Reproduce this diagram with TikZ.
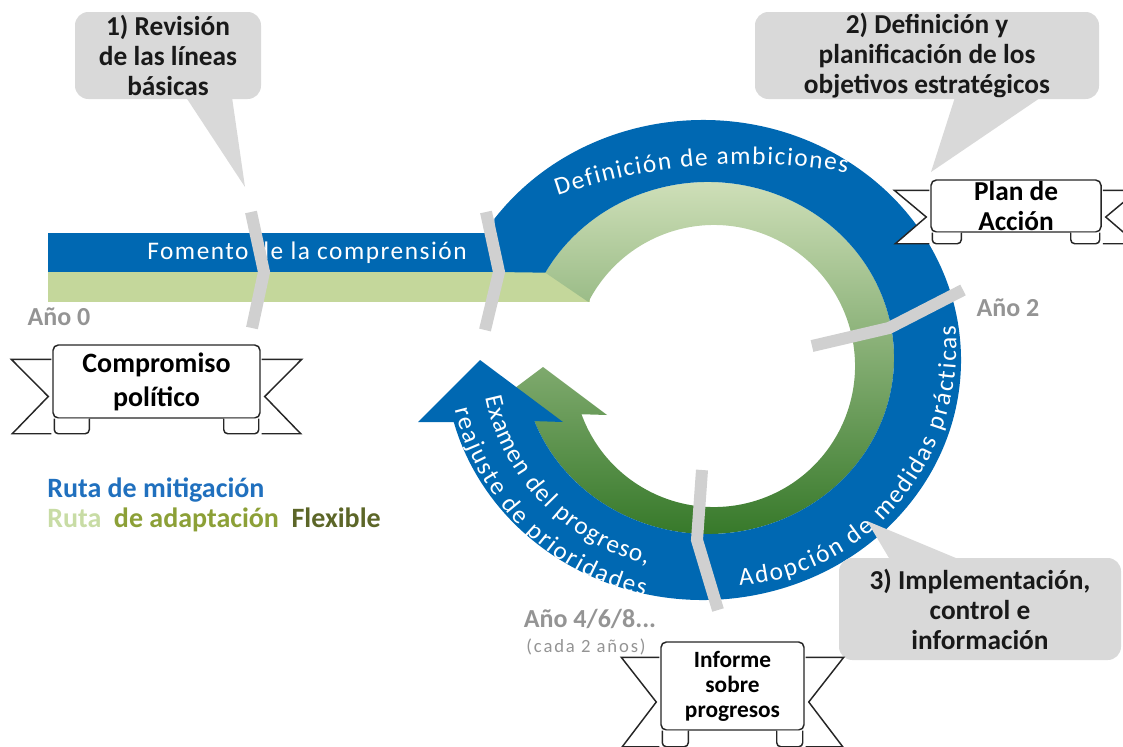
\documentclass[tikz,border=0pt]{standalone}
\usepackage{fontspec}
\setmainfont{Carlito}
\newfontfamily\widefont[LetterSpace=6]{Carlito}
\newfontfamily\smallwide[LetterSpace=10]{Carlito}
\usetikzlibrary{calc,decorations.text}

\definecolor{ringblue}{RGB}{0,104,178}
\definecolor{barlime}{RGB}{196,215,155}
\definecolor{greenlight}{RGB}{217,230,194}
\definecolor{greenmid}{RGB}{160,193,116}
\definecolor{greendark}{RGB}{44,114,32}
\definecolor{sepgray}{RGB}{208,208,208}
\definecolor{calloutgray}{RGB}{217,217,217}
\definecolor{yeargray}{RGB}{148,148,148}
\definecolor{mitblue}{RGB}{32,112,190}
\definecolor{rutalime}{RGB}{200,220,165}
\definecolor{adaptolive}{RGB}{140,160,55}
\definecolor{flexolive}{RGB}{92,102,40}

\tikzset{
  sep/.style={sepgray, line width=9pt},
  callout/.style={fill=calloutgray, rounded corners=10pt, inner sep=0pt, align=center,
    text=black!90, font=\fontsize{20.5}{22.5}\selectfont\bfseries},
  banner/.style={draw=black!85, line width=1.1pt, fill=white, rounded corners=4pt,
    inner sep=0pt, align=center, font=\fontsize{21}{25.5}\selectfont\bfseries},
  banner line/.style={draw=black!85, line width=1.1pt, fill=white},
  year/.style={text=yeargray, inner sep=0pt, font=\fontsize{19.5}{22}\selectfont\bfseries},
  legend/.style={anchor=west, inner sep=0pt, font=\fontsize{21}{24}\selectfont\bfseries},
  bar text/.style={text=white, inner sep=0pt, font=\widefont\fontsize{19}{22}\selectfont},
  ring text/.style={decorate, decoration={text along path, text color=white,
    text={|\fontsize{19}{22}\selectfont|#1}, text align=fit to path}}
}

\newcommand{\bannertails}[4]{%
  \filldraw[banner line] ($(#1.north west)+(-1,#3)$) -- ++(-#2,0) -- ($(#1.west)+(-4,#3)$)
    -- ($(#1.south west)+(-#2,#3)$) -- ($(#1.south west)+(-1,#3)$);
  \filldraw[banner line] ($(#1.north east)+(1,#3)$) -- ++(#2,0) -- ($(#1.east)+(4,#3)$)
    -- ($(#1.south east)+(#2,#3)$) -- ($(#1.south east)+(1,#3)$);
  \filldraw[banner line, rounded corners=3pt] ($(#1.south west)+(2,0)$) -- ++(0,#3) -- ++(#4,0) -- ++(0,-#3);
  \filldraw[banner line, rounded corners=3pt] ($(#1.south east)+(-2,0)$) -- ++(0,#3) -- ++(-#4,0) -- ++(0,-#3);
}

\begin{document}
\begin{tikzpicture}[x=0.75pt, y=-0.75pt]
  \useasboundingbox (0,0) rectangle (1123,746);
  \coordinate (outer c) at (703,360);
  \coordinate (mid c) at (708,358);
  \coordinate (inner c) at (714,366);

  \fill[barlime] (48,272) rectangle (590,302);
  \shade[top color=greenlight, middle color=greenmid, bottom color=greendark]
    ($(mid c)+(-151:186 and 176)$) arc[start angle=-151, end angle=161, x radius=186, y radius=176]
    -- (479,415) -- (543,367) -- (607,415)
    -- ($(inner c)+(160:141)$) arc[start angle=160, end angle=-153, radius=141] -- cycle;
  \fill[ringblue] (48,233) rectangle (545,272);
  \fill[ringblue]
    ($(outer c)+(-144:258 and 240)$) arc[start angle=-144, end angle=165, x radius=258, y radius=240]
    -- (418,422) -- (480,360) -- (563,422)
    -- ($(mid c)+(159:186 and 176)$) arc[start angle=159, end angle=-151, x radius=186, y radius=176]
    -- (497,272) -- cycle;

  \path[ring text={Definición de ambiciones}]
    (747,752) ++(-108.8:588) arc[start angle=-108.8, end angle=-80.2, radius=588];
  \path[ring text={Adopción de medidas prácticas}]
    plot[domain=82:-8, samples=45] ({708+(250-(\x+8)*22/90)*cos(\x)}, {360+(250-(\x+8)*22/90)*sin(\x)});
  \path[ring text={Examen del progreso,}]
    plot[domain=170.5:106.5, samples=40] ({708+(213+(\x-106.5)*13/64)*cos(\x)}, {360+(213+(\x-106.5)*13/64)*sin(\x)});
  \path[ring text={reajuste de prioridades}]
    plot[domain=169:105, samples=40] ({708+(244+(\x-105)*14/64)*cos(\x)}, {360+(244+(\x-105)*14/64)*sin(\x)});
  \node[bar text] (fom) at (307,253) {Fomento de la comprensión};

  \draw[sep] (251,212) -- (264,272) -- (252,328);
  \draw[sep] (486,212) -- (499,272) -- (485,330);
  \draw[sep] (812,346) -- (889,328) -- (963,290);
  \draw[sep] (702,470) -- (697,540) -- (718,610);

  \node[callout, minimum width=139.5pt, minimum height=65.25pt] (rev) at (168,55.5)
    {1) Revisión\\de las líneas\\básicas};
  \coordinate (rev tip) at (245,187);
  \fill[calloutgray] ($(rev.south)+(18,-2)$) -- (rev tip) -- ($(rev.south)+(64,-2)$) -- cycle;
  \node[callout, minimum width=258pt, minimum height=65.25pt] (plan) at (927,55.5)
    {2) Definición y\\planificación de los\\objetivos estratégicos};
  \coordinate (plan tip) at (931,172);
  \fill[calloutgray] ($(plan.south)+(28,-2)$) -- (plan tip) -- ($(plan.south)+(114,-2)$) -- cycle;
  \node[callout, minimum width=211.5pt, minimum height=76.5pt] (impl) at (980,609)
    {3) Implementación,\\control e\\información};
  \coordinate (impl tip) at (867,521);
  \fill[calloutgray] ($(impl.north)+(-90,2)$) -- (impl tip) -- ($(impl.north)+(-20,2)$) -- cycle;

  \node[banner, minimum width=155.25pt, minimum height=54.75pt] (pol) at (156.5,381.5)
    {Compromiso\\político};
  \bannertails{pol}{40}{15}{35}
  \node[banner, minimum width=127.5pt, minimum height=39pt,
    font=\fontsize{20.5}{22.5}\selectfont\bfseries] (act) at (1016,206) {Plan de\\Acción};
  \bannertails{act}{35}{11}{29}
  \node[banner, minimum width=107.25pt, minimum height=66pt,
    font=\fontsize{17.5}{18.75}\selectfont\bfseries] (rep) at (732.5,686) {Informe\\sobre\\progresos};
  \bannertails{rep}{38}{16}{26}

  \node[year] (y0) at (59,317) {Año 0};
  \node[year] (y2) at (1008,308) {Año 2};
  \node[year] (y4) at (590,619) {Año 4/6/8...};
  \node[year, font=\smallwide\fontsize{14}{16}\selectfont] (y4b) at (586,647) {(cada 2 años)};
  \node[legend, text=mitblue] (mit) at (47,490) {Ruta de mitigación};
  \node[legend] (ada) at (47,520)
    {\textcolor{rutalime}{Ruta}\ \ \textcolor{adaptolive}{de adaptación}\ \ \textcolor{flexolive}{Flexible}};
\end{tikzpicture}
\end{document}
